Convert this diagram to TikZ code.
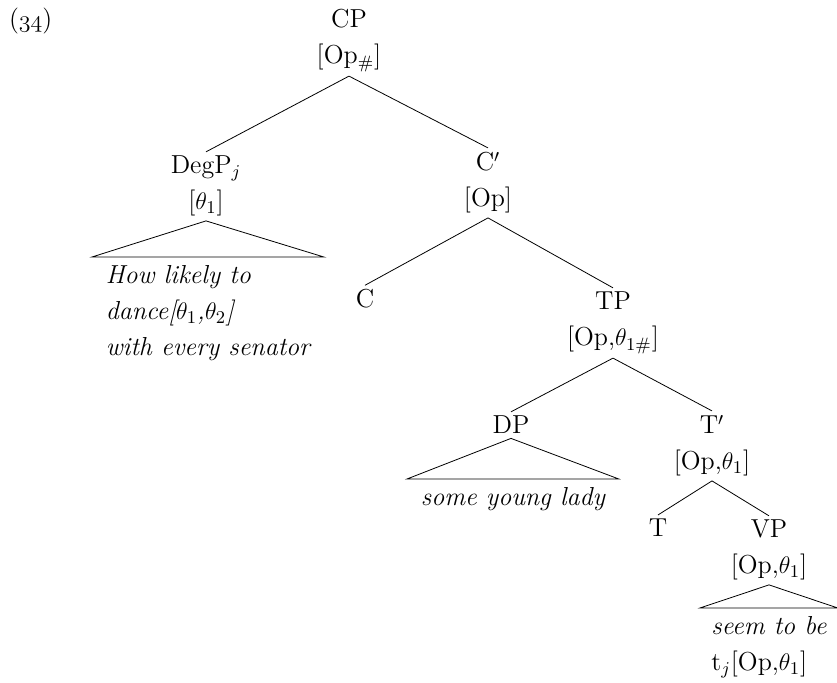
\documentclass[tikz,border=0pt]{standalone}
\newcommand\treefont{\fontsize{13}{18}\selectfont}
\begin{document}
\begin{tikzpicture}[x=0.5pt,y=-0.5pt,font=\treefont,
    label/.style={anchor=base,align=center,inner sep=2pt},
    leaf/.style={font=\treefont\itshape,inner xsep=0pt,inner ysep=4pt}]
    \useasboundingbox (0,0) rectangle (837,683);
    \node (ex) [anchor=base west] at (2,28) {($\mathnormal{34}$)};
    % nodes (base = last line)
    \node (cp) [label] at (349,64) {CP\\{}[Op$_\#$]};
    \node (degp) [label] at (206,210) {DegP$_j$\\{}[$\theta_1$]};
    \node (cbar) [label] at (488,207) {C$'$\\{}[Op]};
    \node (c) [label] at (365,308) {C};
    \node (tp) [label] at (613,346) {TP\\{}[Op,$\theta_{1\#}$]};
    \node (dp) [label] at (511,434) {DP};
    \node (tbar) [label] at (712,470) {T$'$\\{}[Op,$\theta_1$]};
    \node (t) [label] at (658,537) {T};
    \node (vp) [label] at (769,574) {VP\\{}[Op,$\theta_1$]};
    % leaves under triangles
    \node (howleaf) [leaf,anchor=north west,align=left,minimum width=115.5pt] at (92,257) {How likely to\\dance[$\theta_1$,$\theta_2$]\\with every senator};
    \node (dpleaf) [leaf,anchor=north west,minimum width=105.5pt] at (407,479) {some young lady};
    \node (vpleaf) [leaf,anchor=north west,align=left,minimum width=68.5pt] at (700,608) {seem to be\\\upshape t$_j$[Op,$\theta_1$]};
    % branches
    \draw (cp.south) -- (degp.north);
    \draw (cp.south) -- (cbar.north);
    \draw (cbar.south) -- (c.north);
    \draw (cbar.south) -- (tp.north);
    \draw (tp.south) -- (dp.north);
    \draw (tp.south) -- (tbar.north);
    \draw (tbar.south) -- (t.north);
    \draw (tbar.south) -- (vp.north);
    % triangles
    \draw (degp.south) -- (howleaf.north west) -- (howleaf.north east) -- cycle;
    \draw (dp.south) -- (dpleaf.north west) -- (dpleaf.north east) -- cycle;
    \draw (vp.south) -- (vpleaf.north west) -- (vpleaf.north east) -- cycle;
\end{tikzpicture}
\end{document}
